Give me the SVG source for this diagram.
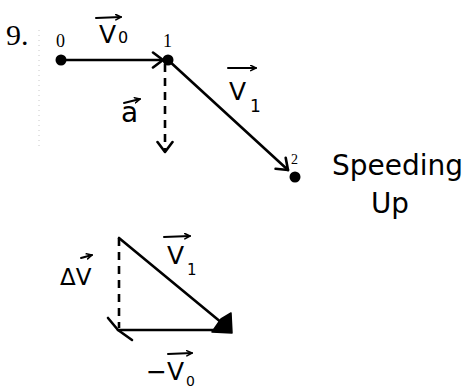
<svg xmlns="http://www.w3.org/2000/svg" width="466" height="389" viewBox="0 0 466 389">
<style>
.ln{stroke:#000;stroke-width:2.6;fill:none;stroke-linecap:round;stroke-linejoin:round}
.dash{stroke-dasharray:8 6;stroke-linecap:butt}
.va{stroke:#000;stroke-width:2;fill:none;stroke-linecap:round}
.dot{fill:#000}
.num{font-family:"Liberation Serif",serif;fill:#000}
.hw{font-family:"DejaVu Sans","Noto Sans",sans-serif;fill:#000}
.scan{stroke:#c8c8c8;stroke-width:1;stroke-dasharray:1 4}
</style>
<defs>
<marker id="head" viewBox="0 0 14 18" refX="12" refY="9" markerWidth="14" markerHeight="18" markerUnits="userSpaceOnUse" orient="auto">
<path d="M2,1.5 L12,9 L2,16.5" fill="none" stroke="#000" stroke-width="2.6" stroke-linecap="round" stroke-linejoin="round"/>
</marker>
<marker id="sm" viewBox="0 0 8 8" refX="7" refY="4" markerWidth="7" markerHeight="7" markerUnits="userSpaceOnUse" orient="auto">
<path d="M1,1 L7,4 L1,7" fill="none" stroke="#000" stroke-width="1.8" stroke-linecap="round" stroke-linejoin="round"/>
</marker>
</defs>
<rect width="466" height="389" fill="#fff"/>
<line class="scan" x1="39" y1="30" x2="39" y2="147"/>
<text class="num" x="6" y="45" font-size="30">9.</text>

<g id="connectors">
<line id="v0" class="ln" x1="61" y1="60" x2="163" y2="60" marker-end="url(#head)"/>
<line id="acc" class="ln dash" x1="165" y1="64" x2="165" y2="152" marker-end="url(#head)"/>
<line id="v1" class="ln" x1="168" y1="60" x2="288" y2="170" marker-end="url(#head)"/>
</g>

<g id="node0">
<circle class="dot" cx="61" cy="60" r="5.5"/>
<text class="num" x="56" y="47" font-size="18">0</text>
</g>
<g id="node1">
<circle class="dot" cx="168" cy="60" r="5.5"/>
<text class="num" x="163" y="47" font-size="18">1</text>
</g>
<g id="node2">
<circle class="dot" cx="295" cy="177" r="5.5"/>
<text class="num" x="291" y="164" font-size="14">2</text>
</g>

<g id="labels">
<line class="va" x1="96" y1="18" x2="121" y2="17" marker-end="url(#sm)"/>
<text class="hw" x="99" y="43" font-size="25">V<tspan font-size="16" dx="2">0</tspan></text>
<line class="va" x1="124" y1="103" x2="140" y2="99" marker-end="url(#sm)"/>
<text class="hw" x="121" y="122" font-size="28">a</text>
<line class="va" x1="228" y1="68" x2="256" y2="68" marker-end="url(#sm)"/>
<text class="hw" x="229" y="100" font-size="25">V<tspan font-size="17" dy="12" dx="4">1</tspan></text>
<text class="hw" x="332" y="175" font-size="28" textLength="131" lengthAdjust="spacingAndGlyphs">Speeding</text>
<text class="hw" x="371" y="213" font-size="28" textLength="38" lengthAdjust="spacingAndGlyphs">Up</text>
</g>

<g id="vector-diagram">
<line class="ln dash" x1="119" y1="238" x2="119" y2="328"/>
<line class="ln" x1="119" y1="238" x2="222" y2="323"/>
<line class="ln" x1="230" y1="330" x2="118" y2="330"/>
<path class="ln" d="M108,318 L118,330 L132,340"/>
<path d="M212,332 L221,319 L231,313 L232,333 Z" fill="#000" stroke="#000" stroke-width="1.5" stroke-linejoin="round"/>
<line class="va" x1="81" y1="258" x2="92" y2="255" marker-end="url(#sm)"/>
<text class="hw" x="60" y="285" font-size="23">Δ<tspan>V</tspan></text>
<line class="va" x1="164" y1="237" x2="190" y2="236" marker-end="url(#sm)"/>
<text class="hw" x="167" y="264" font-size="25">V<tspan font-size="15" dy="11" dx="3">1</tspan></text>
<line class="va" x1="168" y1="354" x2="192" y2="353" marker-end="url(#sm)"/>
<text class="hw" x="146" y="380" font-size="25">−V<tspan font-size="14" dy="6" dx="2">0</tspan></text>
</g>
</svg>
